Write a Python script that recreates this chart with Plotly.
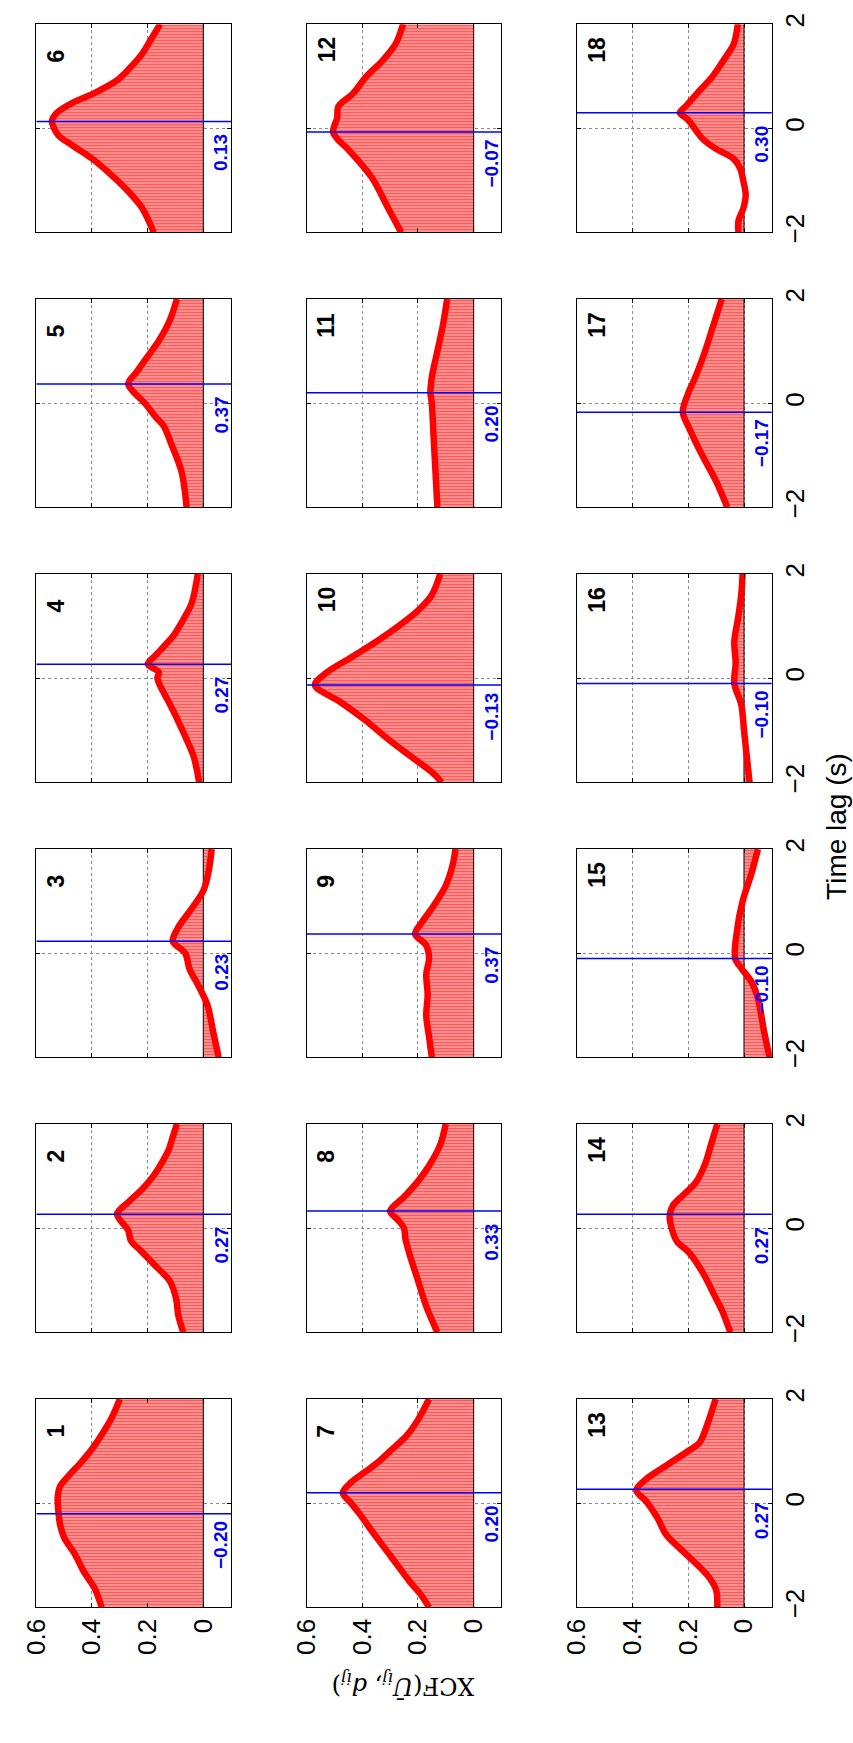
import plotly.graph_objects as go

W, H = 853, 1743

# ---------------- data (time lag t in s, XCF value v) ----------------
t1 = [-2, -1.64, -1.31, -0.99, -0.66, -0.40, -0.20, 0.12, 0.32, 0.52, 0.78, 1.04, 1.3, 1.63, 2]
v1 = [0.365, 0.39, 0.43, 0.46, 0.50, 0.515, 0.52, 0.523, 0.515, 0.485, 0.44, 0.40, 0.367, 0.33, 0.30]

t2 = [-2, -1.67, -1.35, -1.02, -0.69, -0.43, -0.24, -0.04, 0.27, 0.5, 0.75, 1.0, 1.25, 1.5, 1.75, 2]
v2 = [0.072, 0.09, 0.098, 0.12, 0.178, 0.225, 0.26, 0.27, 0.31, 0.27, 0.22, 0.18, 0.15, 0.125, 0.11, 0.095]

t3 = [-2, -1.5, -1, -0.6, -0.3, 0, 0.23, 0.5, 0.8, 1.2, 1.6, 2]
v3 = [-0.055, -0.035, -0.015, 0.02, 0.05, 0.065, 0.11, 0.09, 0.05, 0.0, -0.02, -0.03]

t4 = [-2, -1.5, -1, -0.5, -0.2, 0, 0.12, 0.27, 0.45, 0.82, 1.1, 1.44, 2]
v4 = [0.015, 0.035, 0.075, 0.12, 0.15, 0.165, 0.16, 0.2, 0.17, 0.107, 0.075, 0.042, 0.02]

t5 = [-2, -1.32, -0.81, -0.43, -0.27, 0, 0.37, 0.6, 0.9, 1.2, 1.6, 2]
v5 = [0.06, 0.078, 0.113, 0.143, 0.17, 0.21, 0.27, 0.24, 0.2, 0.16, 0.12, 0.095]

t6 = [-2, -1.53, -1.21, -0.9, -0.58, -0.33, -0.14, 0.05, 0.14, 0.3, 0.49, 0.68, 0.93, 1.18, 1.43, 1.69, 2]
v6 = [0.178, 0.22, 0.27, 0.33, 0.40, 0.47, 0.52, 0.54, 0.544, 0.526, 0.47, 0.39, 0.308, 0.26, 0.22, 0.19, 0.155]

t7 = [-2, -1.75, -1.5, -1, -0.5, -0.2, 0, 0.2, 0.4, 0.6, 0.8, 1.0, 1.3, 1.6, 2]
v7 = [0.16, 0.19, 0.23, 0.3, 0.37, 0.41, 0.44, 0.47, 0.44, 0.39, 0.34, 0.3, 0.24, 0.2, 0.16]

t8 = [-2, -1.5, -1, -0.5, -0.2, 0, 0.15, 0.33, 0.6, 0.9, 1.2, 1.6, 2]
v8 = [0.13, 0.17, 0.2, 0.23, 0.245, 0.25, 0.27, 0.3, 0.25, 0.2, 0.16, 0.12, 0.1]

t9 = [-2, -1.6, -1.2, -0.8, -0.4, -0.1, 0.15, 0.37, 0.6, 0.9, 1.3, 1.7, 2]
v9 = [0.15, 0.16, 0.17, 0.165, 0.17, 0.16, 0.17, 0.21, 0.185, 0.145, 0.1, 0.075, 0.065]

t10 = [-2, -1.85, -1.6, -1.2, -0.8, -0.45, -0.13, 0.1, 0.4, 0.7, 1.0, 1.3, 1.6, 2]
v10 = [0.115, 0.14, 0.2, 0.3, 0.39, 0.48, 0.57, 0.53, 0.44, 0.35, 0.27, 0.2, 0.15, 0.12]

t11 = [-2, -1.5, -1, -0.5, 0, 0.2, 0.5, 1, 1.5, 2]
v11 = [0.13, 0.135, 0.14, 0.145, 0.15, 0.155, 0.15, 0.13, 0.11, 0.095]

t12 = [-2, -1.5, -0.95, -0.42, -0.2, -0.07, 0.05, 0.2, 0.42, 0.67, 0.99, 1.3, 1.62, 2]
v12 = [0.26, 0.31, 0.365, 0.448, 0.49, 0.505, 0.5, 0.49, 0.486, 0.433, 0.386, 0.327, 0.28, 0.253]

t13 = [-2, -1.67, -1.42, -1.17, -0.92, -0.6, -0.29, 0.03, 0.25, 0.47, 0.72, 0.97, 1.16, 1.35, 1.6, 2]
v13 = [0.096, 0.10, 0.126, 0.17, 0.22, 0.28, 0.31, 0.35, 0.387, 0.35, 0.28, 0.21, 0.16, 0.143, 0.126, 0.102]

t14 = [-2, -1.58, -1.27, -0.95, -0.64, -0.45, -0.26, 0.0, 0.25, 0.44, 0.63, 0.88, 1.26, 1.58, 2]
v14 = [0.049, 0.079, 0.108, 0.138, 0.173, 0.2, 0.24, 0.26, 0.267, 0.255, 0.22, 0.173, 0.138, 0.12, 0.096]

t15 = [-2, -1.5, -0.87, -0.55, -0.3, -0.1, 0.4, 1.0, 1.5, 2]
v15 = [-0.092, -0.072, -0.05, -0.027, 0.008, 0.032, 0.026, 0.005, -0.025, -0.05]

t16 = [-2, -1.5, -1, -0.5, -0.1, 0.3, 0.7, 1.2, 1.6, 2]
v16 = [-0.02, -0.01, 0.0, 0.01, 0.035, 0.03, 0.035, 0.02, 0.01, 0.005]

t17 = [-2, -1.5, -1, -0.5, -0.17, 0.2, 0.5, 1, 1.5, 2]
v17 = [0.06, 0.1, 0.15, 0.195, 0.22, 0.2, 0.175, 0.14, 0.11, 0.08]

t18 = [-2, -1.78, -1.53, -1.28, -1.02, -0.77, -0.58, -0.39, -0.2, -0.08, 0.17, 0.3, 0.43, 0.68, 0.99, 1.31, 1.62, 2]
v18 = [0.02, 0.02, 0.002, -0.006, 0.002, 0.014, 0.038, 0.102, 0.149, 0.167, 0.202, 0.231, 0.208, 0.167, 0.114, 0.073, 0.037, 0.022]

T_LISTS = [t1, t2, t3, t4, t5, t6, t7, t8, t9, t10, t11, t12, t13, t14, t15, t16, t17, t18]
V_LISTS = [v1, v2, v3, v4, v5, v6, v7, v8, v9, v10, v11, v12, v13, v14, v15, v16, v17, v18]

LAGS = [-0.20, 0.27, 0.23, 0.27, 0.37, 0.13, 0.20, 0.33, 0.37, -0.13, 0.20, -0.07,
        0.27, 0.27, -0.10, -0.10, -0.17, 0.30]
LAG_LABELS = ["−0.20", "0.27", "0.23", "0.27", "0.37", "0.13", "0.20", "0.33", "0.37",
              "−0.13", "0.20", "−0.07", "0.27", "0.27", "−0.10", "−0.10", "−0.17", "0.30"]
PANEL_NAMES = ["1", "2", "3", "4", "5", "6", "7", "8", "9", "10", "11", "12",
               "13", "14", "15", "16", "17", "18"]

XCF_TICKS = [0, 0.2, 0.4, 0.6]
XCF_TICK_TEXT = ["0", "0.2", "0.4", "0.6"]
LAG_TICKS = [-2, 0, 2]
LAG_TICK_TEXT = ["−2", "0", "2"]
XCF_RANGE = [0.6, -0.1]
LAG_RANGE = [-2, 2]

# ---------------- geometry (pixels) ----------------
COL_LEFT = [20.7, 296.1, 571.7]
PANEL_W = 198.6
TOP0 = 13.3
ROW_STEP = 278.5
PANEL_H = 211.0

SANS = "Liberation Sans, Arial, Helvetica, sans-serif"
RED = "#ff0000"
BLUE = "#0000ff"

fig = go.Figure()
annotations = []
layout_axes = {}

for i in range(18):
    n = i + 1
    col = i // 6
    k = i % 6 + 1  # 1 = bottom
    sfx = "" if n == 1 else str(n)
    xr, yr = "x" + sfx, "y" + sfx
    left = COL_LEFT[col]
    right = left + PANEL_W
    top = TOP0 + (6 - k) * ROW_STEP
    bottom = top + PANEL_H

    tt, vv = T_LISTS[i], V_LISTS[i]

    # fill (stems look)
    fig.add_trace(go.Scatter(
        x=vv, y=tt, mode="lines", xaxis=xr, yaxis=yr,
        line=dict(width=0, shape="spline", smoothing=0.9, color="rgba(255,0,0,0)"),
        fill="tozerox", fillcolor="#ff7a7a",
        fillpattern=dict(shape="-", fgcolor="#ff0000", bgcolor="#ffa6a6", size=3, solidity=0.5),
        hoverinfo="skip", showlegend=False))
    # baseline at zero
    fig.add_trace(go.Scatter(
        x=[0, 0], y=LAG_RANGE, mode="lines", xaxis=xr, yaxis=yr,
        line=dict(width=1.2, color="#222222"), hoverinfo="skip", showlegend=False))
    # thick curve
    fig.add_trace(go.Scatter(
        x=vv, y=tt, mode="lines", xaxis=xr, yaxis=yr,
        line=dict(width=6.5, shape="spline", smoothing=0.9, color=RED),
        hoverinfo="skip", showlegend=False))
    # lag marker
    fig.add_trace(go.Scatter(
        x=XCF_RANGE, y=[LAGS[i], LAGS[i]], mode="lines", xaxis=xr, yaxis=yr,
        line=dict(width=1.5, color=BLUE), hoverinfo="skip", showlegend=False))

    layout_axes["xaxis" + sfx] = dict(
        domain=[left / W, right / W], anchor=yr, range=XCF_RANGE,
        tickmode="array", tickvals=XCF_TICKS, ticktext=XCF_TICK_TEXT,
        showticklabels=(k == 1), tickangle=-90,
        tickfont=dict(family=SANS, size=26, color="black"),
        ticks="inside", ticklen=4, tickcolor="black", tickwidth=1,
        showgrid=True, gridcolor="#8a8a8a", griddash="dot", gridwidth=1,
        showline=True, linecolor="black", linewidth=1.2, mirror="ticks",
        zeroline=False, fixedrange=True)
    layout_axes["yaxis" + sfx] = dict(
        domain=[1 - bottom / H, 1 - top / H], anchor=xr, range=LAG_RANGE,
        tickmode="array", tickvals=LAG_TICKS, ticktext=LAG_TICK_TEXT,
        showticklabels=(col == 2), side="right", tickangle=-90,
        tickfont=dict(family=SANS, size=26, color="black"),
        ticks="inside", ticklen=4, tickcolor="black", tickwidth=1,
        showgrid=True, gridcolor="#8a8a8a", griddash="dot", gridwidth=1,
        showline=True, linecolor="black", linewidth=1.2, mirror="ticks",
        zeroline=False, fixedrange=True)

    # panel number
    annotations.append(dict(
        x=0.528, y=1.22, xref=xr, yref=yr, text="<b>" + PANEL_NAMES[i] + "</b>",
        showarrow=False, textangle=-90, xanchor="center", yanchor="bottom",
        font=dict(family=SANS, size=23, color="black")))
    # lag label
    annotations.append(dict(
        x=-0.064, y=LAGS[i] - 0.6, xref=xr, yref=yr, text="<b>" + LAG_LABELS[i] + "</b>",
        showarrow=False, textangle=-90, xanchor="center", yanchor="middle",
        font=dict(family=SANS, size=19, color=BLUE)))

# axis titles
annotations.append(dict(
    x=836 / W, y=1 - 826 / H, xref="paper", yref="paper", text="Time lag (s)",
    showarrow=False, textangle=-90, xanchor="center", yanchor="middle",
    font=dict(family=SANS, size=28, color="black")))
annotations.append(dict(
    x=395 / W, y=1 - 1695 / H, xref="paper", yref="paper",
    text="XCF(<i>Ū</i><sub><i>ij</i></sub>, <i>d</i><sub><i>ij</i></sub>)",
    showarrow=False, textangle=180, xanchor="center", yanchor="middle",
    font=dict(family="DejaVu Serif, Liberation Serif, serif", size=24, color="black")))

fig.update_layout(
    width=W, height=H, autosize=False,
    margin=dict(l=0, r=0, t=0, b=0),
    paper_bgcolor="white", plot_bgcolor="white",
    showlegend=False, annotations=annotations,
    **layout_axes)

fig.write_html("out.html")
